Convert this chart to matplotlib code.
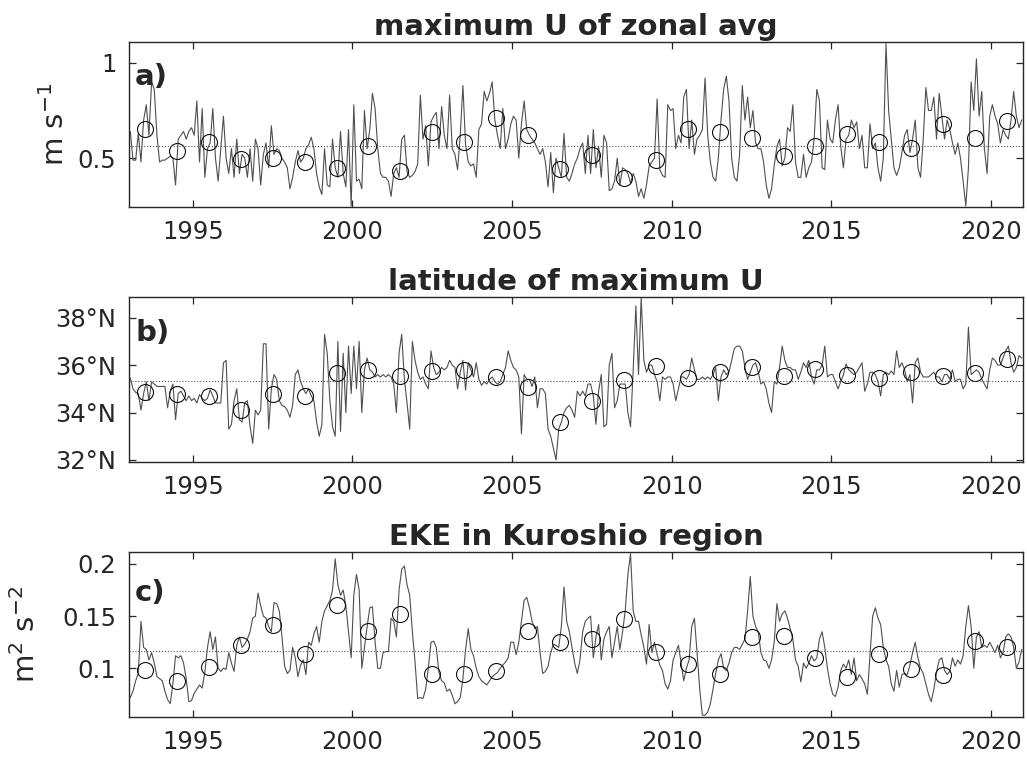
import numpy as np
import matplotlib.pyplot as plt

# monthly series, one row per year (Jan..Dec), 1993-2020
years = np.arange(1993, 2021)

u_max = [
    0.64, 0.49, 0.49, 0.63, 0.48, 0.70, 0.78, 0.62, 0.90, 0.86, 0.62, 0.48,
    0.49, 0.49, 0.50, 0.51, 0.50, 0.36, 0.60, 0.62, 0.64, 0.60, 0.64, 0.66,
    0.62, 0.80, 0.48, 0.76, 0.40, 0.55, 0.58, 0.76, 0.50, 0.38, 0.55, 0.72,
    0.50, 0.42, 0.55, 0.40, 0.60, 0.42, 0.52, 0.50, 0.40, 0.55, 0.38, 0.60,
    0.55, 0.36, 0.52, 0.58, 0.45, 0.67, 0.52, 0.55, 0.54, 0.50, 0.48, 0.45,
    0.34, 0.40, 0.48, 0.54, 0.48, 0.50, 0.55, 0.57, 0.61, 0.55, 0.42, 0.35,
    0.31, 0.55, 0.36, 0.35, 0.60, 0.45, 0.40, 0.64, 0.42, 0.35, 0.65, 0.25,
    0.78, 0.38, 0.39, 0.34, 0.75, 0.55, 0.65, 0.84, 0.76, 0.55, 0.42, 0.40,
    0.40, 0.38, 0.30, 0.42, 0.45, 0.40, 0.60, 0.62, 0.43, 0.40, 0.41, 0.43,
    0.47, 0.83, 0.60, 0.67, 0.46, 0.69, 0.72, 0.74, 0.55, 0.77, 0.62, 0.55,
    0.83, 0.55, 0.52, 0.44, 0.62, 0.88, 0.57, 0.48, 0.46, 0.47, 0.40, 0.65,
    0.68, 0.85, 0.80, 0.84, 0.90, 0.70, 0.62, 0.55, 0.76, 0.55, 0.60, 0.68,
    0.72, 0.70, 0.50, 0.68, 0.80, 0.65, 0.62, 0.60, 0.58, 0.55, 0.52, 0.55,
    0.48, 0.35, 0.53, 0.32, 0.50, 0.45, 0.40, 0.63, 0.40, 0.38, 0.42, 0.47,
    0.50, 0.55, 0.58, 0.42, 0.62, 0.42, 0.65, 0.45, 0.56, 0.40, 0.62, 0.58,
    0.33, 0.34, 0.38, 0.50, 0.36, 0.45, 0.44, 0.42, 0.37, 0.42, 0.38, 0.30,
    0.34, 0.29, 0.36, 0.46, 0.48, 0.50, 0.81, 0.44, 0.41, 0.40, 0.78, 0.75,
    0.76, 0.55, 0.62, 0.58, 0.82, 0.86, 0.55, 0.70, 0.52, 0.60, 0.62, 0.65,
    0.92, 0.62, 0.48, 0.40, 0.38, 0.50, 0.70, 0.86, 0.93, 0.80, 0.50, 0.40,
    0.38, 0.52, 0.88, 0.70, 0.82, 0.66, 0.75, 0.58, 0.55, 0.55, 0.48, 0.36,
    0.29, 0.34, 0.46, 0.56, 0.60, 0.46, 0.50, 0.66, 0.64, 0.78, 0.48, 0.40,
    0.40, 0.52, 0.40, 0.45, 0.48, 0.60, 0.86, 0.80, 0.45, 0.44, 0.70, 0.60,
    0.58, 0.70, 0.78, 0.56, 0.45, 0.60, 0.62, 0.70, 0.66, 0.69, 0.55, 0.62,
    0.45, 0.45, 0.68, 0.55, 0.58, 0.45, 0.38, 0.50, 1.10, 0.75, 0.60, 0.45,
    0.41, 0.45, 0.53, 0.62, 0.65, 0.53, 0.60, 0.70, 0.45, 0.40, 0.60, 0.87,
    0.75, 0.75, 0.82, 0.60, 0.84, 0.72, 0.60, 0.70, 0.65, 0.58, 0.52, 0.58,
    0.50, 0.38, 0.25, 0.45, 0.90, 0.75, 1.02, 0.72, 0.85, 0.55, 0.42, 0.72,
    0.78, 0.72, 0.68, 0.58, 0.65, 0.62, 0.60, 0.70, 0.85, 0.72, 0.66, 0.70,
]

lat_max = [
    35.45, 35.0, 34.85, 34.8, 34.1, 34.8, 35.3, 34.5, 35.3, 35.2, 35.1, 35.1,
    35.1, 35.1, 34.2, 34.9, 35.2, 33.7, 34.8, 34.9, 34.7, 34.5, 34.7, 34.5,
    34.6, 34.4, 34.75, 34.6, 34.5, 34.6, 34.95, 34.7, 34.4, 34.4, 34.4, 36.1,
    36.2, 33.3, 33.5, 34.5, 35.0, 33.7, 33.6, 34.4, 34.5, 33.4, 32.7, 34.1,
    33.9, 34.1, 36.9, 36.9, 33.3, 35.0, 35.6, 35.4, 34.5, 34.3, 34.25, 34.1,
    33.8, 34.3, 35.6, 35.8, 35.3, 35.0, 34.8, 35.0, 34.7, 34.5, 33.6, 33.0,
    33.5, 37.3, 36.5, 34.5, 33.4, 33.0, 37.0, 33.2, 36.5, 34.0, 36.8, 34.8,
    36.8, 35.0, 37.0, 34.0, 35.8, 36.3, 35.8, 35.7, 35.5, 35.6, 35.5, 35.6,
    35.5, 35.6, 35.5, 35.2, 34.0, 36.5, 37.3, 35.4, 34.4, 33.3, 37.0, 36.2,
    35.7, 35.4, 35.5, 35.2, 35.0, 36.6, 35.9, 35.6, 35.7, 35.9, 35.8, 35.9,
    36.2, 36.0, 35.9, 35.0, 35.7, 36.2, 34.95, 36.1, 35.8, 35.5, 36.1, 35.4,
    35.15, 35.3, 35.2, 35.4, 35.5, 35.3, 35.2, 35.3, 35.6, 35.9, 36.6, 36.2,
    35.9, 35.8, 35.5, 33.1, 35.6, 35.4, 35.4, 35.1, 35.5, 34.2, 35.0, 35.0,
    34.8, 33.3, 33.0, 32.5, 32.0, 33.3, 33.6, 34.0, 34.2, 34.3, 34.1, 33.8,
    34.9, 34.7, 34.9, 34.7, 35.2, 35.2, 34.7, 33.5, 34.9, 35.6, 33.4, 33.5,
    36.0, 36.5, 34.2, 34.5, 35.2, 35.2, 35.2, 34.0, 33.4, 35.8, 38.5, 35.6,
    38.85, 36.2, 35.7, 36.0, 36.0, 35.6, 35.3, 34.5, 35.5, 35.4, 35.5, 35.5,
    35.2, 34.5, 35.0, 35.5, 35.5, 35.4, 35.6, 36.3, 35.8, 35.4, 35.4, 35.5,
    35.4, 35.5, 35.4, 35.6, 35.9, 34.5, 35.5, 35.8, 35.6, 35.7, 36.2, 36.7,
    36.8, 36.8, 36.6, 35.9, 35.4, 35.7, 36.0, 36.1, 35.7, 35.2, 35.3, 35.0,
    34.4, 34.0, 35.3, 35.2, 35.9, 36.8, 36.2, 35.9, 35.9, 35.8, 35.8, 35.4,
    35.7, 36.1, 35.9, 36.2, 35.5, 35.2, 35.8, 35.8, 36.0, 36.8, 35.5, 35.6,
    35.6, 35.3, 35.0, 35.3, 35.6, 36.05, 35.8, 35.7, 35.6, 35.7, 35.9, 36.1,
    34.9, 35.2, 35.7, 35.7, 35.6, 35.3, 34.7, 35.6, 35.7, 35.6, 35.75, 35.6,
    36.6, 35.9, 36.1, 35.8, 35.3, 35.6, 34.4, 36.1, 36.3, 35.7, 35.5, 35.5,
    35.5, 35.6, 35.7, 35.5, 35.5, 35.3, 35.6, 35.6, 35.4, 35.8, 35.3, 35.4,
    35.4, 35.0, 35.2, 37.6, 35.6, 35.7, 35.8, 35.7, 35.4, 35.2, 35.0, 35.8,
    36.3, 36.2, 36.0, 36.0, 36.3, 36.6, 36.8, 36.1, 35.7, 35.9, 36.4, 36.3,
]

eke = [
    0.072, 0.078, 0.088, 0.095, 0.145, 0.120, 0.118, 0.108, 0.115, 0.105, 0.092, 0.090,
    0.088, 0.078, 0.070, 0.066, 0.085, 0.112, 0.110, 0.112, 0.105, 0.090, 0.068, 0.069,
    0.076, 0.080, 0.084, 0.081, 0.096, 0.120, 0.135, 0.118, 0.130, 0.100, 0.097, 0.100,
    0.099, 0.115, 0.105, 0.097, 0.122, 0.130, 0.120, 0.123, 0.128, 0.135, 0.148, 0.150,
    0.172, 0.160, 0.150, 0.148, 0.140, 0.135, 0.163, 0.162, 0.155, 0.130, 0.102, 0.095,
    0.098, 0.120, 0.110, 0.092, 0.103, 0.108, 0.094, 0.125, 0.122, 0.133, 0.140, 0.125,
    0.145, 0.155, 0.160, 0.165, 0.175, 0.205, 0.180, 0.170, 0.175, 0.160, 0.135, 0.110,
    0.170, 0.190, 0.175, 0.100, 0.120, 0.140, 0.158, 0.159, 0.125, 0.100, 0.100, 0.115,
    0.116, 0.116, 0.148, 0.145, 0.130, 0.175, 0.195, 0.198, 0.180, 0.170, 0.135, 0.106,
    0.071, 0.072, 0.071, 0.080, 0.100, 0.125, 0.126, 0.120, 0.096, 0.088, 0.086, 0.078,
    0.080, 0.074, 0.066, 0.068, 0.072, 0.090, 0.118, 0.138, 0.118, 0.112, 0.100, 0.092,
    0.088, 0.086, 0.084, 0.088, 0.092, 0.094, 0.096, 0.100, 0.103, 0.106, 0.110, 0.125,
    0.125, 0.113, 0.125, 0.145, 0.165, 0.168, 0.158, 0.145, 0.138, 0.140, 0.115, 0.095,
    0.097, 0.102, 0.115, 0.123, 0.122, 0.120, 0.140, 0.178, 0.145, 0.135, 0.120, 0.105,
    0.095, 0.108, 0.135, 0.145, 0.148, 0.150, 0.110, 0.130, 0.142, 0.108, 0.128, 0.135,
    0.140, 0.110, 0.125, 0.140, 0.118, 0.135, 0.155, 0.190, 0.210, 0.155, 0.145, 0.145,
    0.132, 0.120, 0.104, 0.142, 0.115, 0.125, 0.113, 0.103, 0.098, 0.085, 0.080, 0.088,
    0.108, 0.115, 0.122, 0.105, 0.088, 0.100, 0.108, 0.140, 0.148, 0.115, 0.080, 0.055,
    0.055, 0.058, 0.066, 0.080, 0.095, 0.108, 0.114, 0.100, 0.098, 0.105, 0.115, 0.120,
    0.120, 0.118, 0.123, 0.128, 0.155, 0.188, 0.150, 0.140, 0.135, 0.115, 0.108, 0.107,
    0.100, 0.108, 0.125, 0.162, 0.145, 0.152, 0.155, 0.148, 0.138, 0.128, 0.108, 0.102,
    0.087, 0.105, 0.100, 0.105, 0.112, 0.107, 0.110, 0.128, 0.135, 0.120, 0.100, 0.085,
    0.075, 0.073, 0.082, 0.098, 0.104, 0.100, 0.108, 0.094, 0.110, 0.088, 0.094, 0.090,
    0.085, 0.075, 0.112, 0.150, 0.158, 0.148, 0.142, 0.120, 0.108, 0.102, 0.085, 0.078,
    0.098, 0.082, 0.094, 0.095, 0.094, 0.103, 0.115, 0.125, 0.110, 0.100, 0.095, 0.085,
    0.075, 0.068, 0.080, 0.096, 0.108, 0.110, 0.098, 0.094, 0.097, 0.110, 0.102, 0.108,
    0.104, 0.112, 0.140, 0.160, 0.140, 0.100, 0.130, 0.135, 0.120, 0.122, 0.120, 0.125,
    0.120, 0.115, 0.122, 0.110, 0.115, 0.130, 0.133, 0.130, 0.120, 0.100, 0.106, 0.118,
]

# annual means (open circles)
u_max_yr = [0.652, 0.540, 0.584, 0.495, 0.503, 0.482, 0.448, 0.564, 0.435, 0.636,
            0.584, 0.709, 0.622, 0.442, 0.517, 0.398, 0.491, 0.652, 0.636, 0.605,
            0.514, 0.564, 0.627, 0.587, 0.552, 0.678, 0.608, 0.697]
lat_max_yr = [34.85, 34.76, 34.69, 34.10, 34.76, 34.69, 35.68, 35.79, 35.54, 35.75,
              35.79, 35.51, 35.09, 33.61, 34.48, 35.37, 35.96, 35.44, 35.72, 35.93,
              35.54, 35.83, 35.58, 35.46, 35.72, 35.54, 35.65, 36.24]
eke_yr = [0.0984, 0.0878, 0.1010, 0.1223, 0.1415, 0.1137, 0.1606, 0.1357, 0.1520, 0.0943,
          0.0943, 0.0977, 0.1360, 0.1249, 0.1278, 0.1472, 0.1159, 0.1041, 0.0945, 0.1303,
          0.1310, 0.1096, 0.0920, 0.1137, 0.0993, 0.0936, 0.1265, 0.1207]

titles = ['maximum U of zonal avg', 'latitude of maximum U', 'EKE in Kuroshio region']
tags = ['a)', 'b)', 'c)']
ylabels = ['m s$^{-1}$', None, 'm$^2$ s$^{-2}$']
ylims = [(0.243, 1.11), (31.9, 38.86), (0.053, 0.2118)]
yticks = [[0.5, 1], [32, 34, 36, 38], [0.1, 0.15, 0.2]]
yticklabels = [['0.5', '1'], ['32°N', '34°N', '36°N', '38°N'], ['0.1', '0.15', '0.2']]
xticks = [1995, 2000, 2005, 2010, 2015, 2020]

txt = '#262626'
fig = plt.figure(figsize=(10.27, 7.58), dpi=100)
boxes = [[0.1256, 0.7265, 0.8705, 0.2185],
         [0.1256, 0.3901, 0.8705, 0.2177],
         [0.1256, 0.0537, 0.8705, 0.2185]]
tag_y = [0.738, 0.735, 0.702]
label_x = [-0.066, None, -0.098]

series = [u_max, lat_max, eke]
annual = [u_max_yr, lat_max_yr, eke_yr]
t = years[0] + (np.arange(len(u_max)) + 0.5) / 12
ty = years + 0.5

for i in range(3):
    ax = fig.add_axes(boxes[i])
    ax.plot(t, series[i], color='#4f4f4f', lw=0.8)
    ax.plot(ty, annual[i], 'o', mfc='none', mec='#111111', ms=11.5, mew=0.8)
    ax.axhline(np.mean(annual[i]), color='#555555', lw=0.8, ls=':')
    ax.set_xlim(1993, 2021)
    ax.set_ylim(*ylims[i])
    ax.set_xticks(xticks)
    ax.set_xticklabels([str(x) for x in xticks])
    ax.set_yticks(yticks[i])
    ax.set_yticklabels(yticklabels[i])
    ax.tick_params(direction='in', top=True, right=True, length=5, width=0.9,
                   labelsize=17.5, labelcolor=txt, color=txt)
    ax.tick_params(axis='x', pad=9)
    ax.tick_params(axis='y', pad=9)
    for s in ax.spines.values():
        s.set_color(txt)
        s.set_linewidth(1.0)
    ax.set_title(titles[i], fontsize=21, fontweight='bold', color=txt, pad=5)
    ax.text(0.007, tag_y[i], tags[i], transform=ax.transAxes, fontsize=21,
            fontweight='bold', color=txt, va='baseline', ha='left')
    if ylabels[i]:
        ax.set_ylabel(ylabels[i], fontsize=21, color=txt)
        ax.yaxis.set_label_coords(label_x[i], 0.5)

fig.savefig('out.png', dpi=100)
